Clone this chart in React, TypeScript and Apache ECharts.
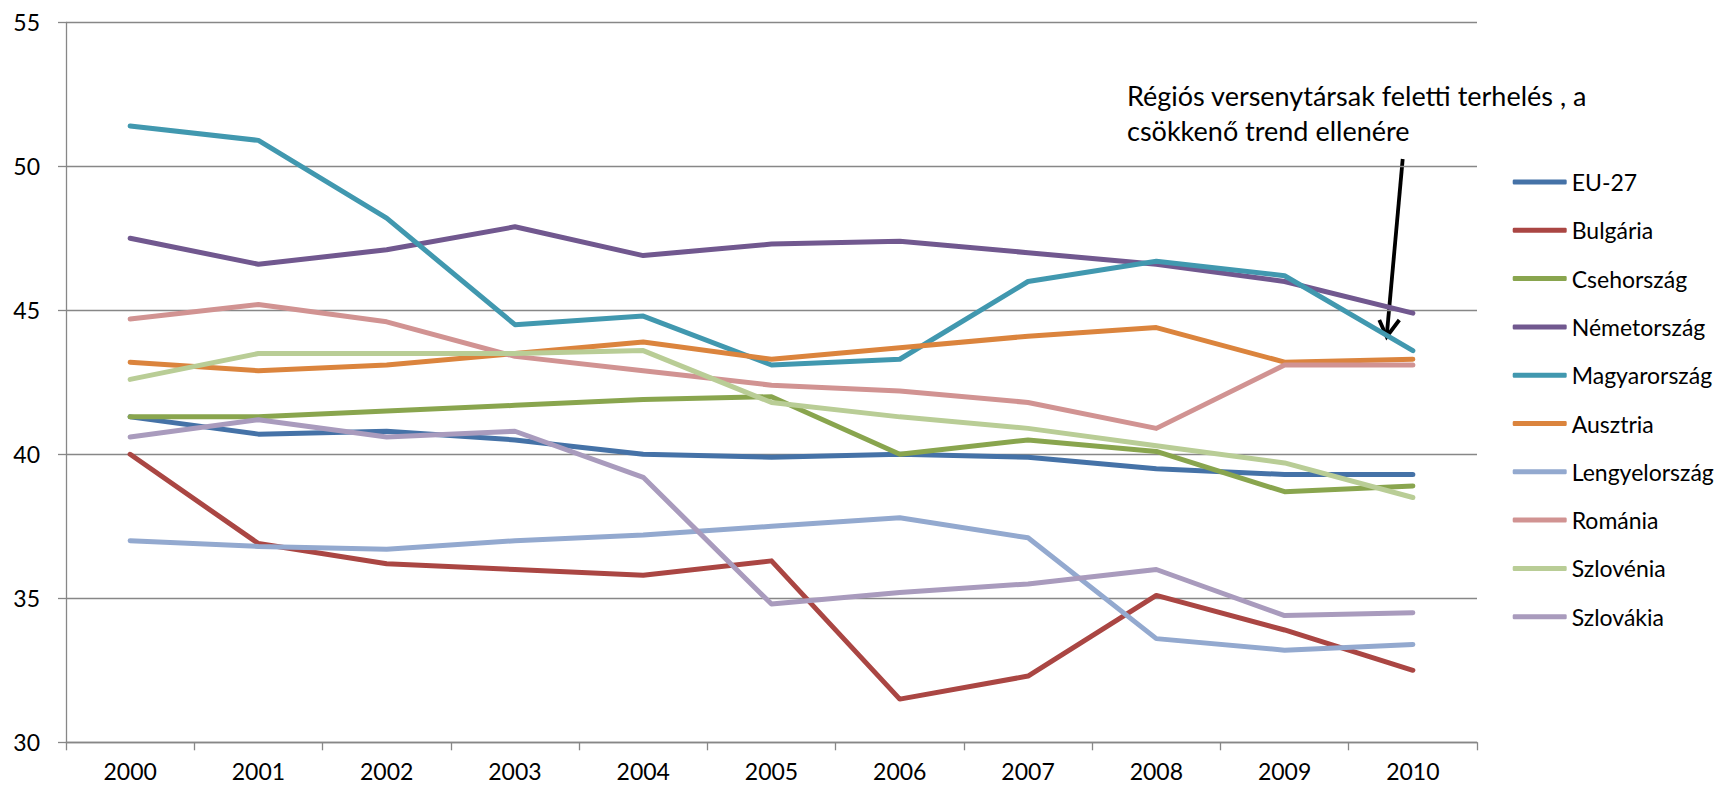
import React, { useEffect, useRef } from "react";
import * as echarts from "echarts";

const years = ["2000", "2001", "2002", "2003", "2004", "2005", "2006", "2007", "2008", "2009", "2010"];

const eu27 = [41.3, 40.7, 40.8, 40.5, 40.0, 39.9, 40.0, 39.9, 39.5, 39.3, 39.3];
const bulgaria = [40.0, 36.9, 36.2, 36.0, 35.8, 36.3, 31.5, 32.3, 35.1, 33.9, 32.5];
const csehorszag = [41.3, 41.3, 41.5, 41.7, 41.9, 42.0, 40.0, 40.5, 40.1, 38.7, 38.9];
const nemetorszag = [47.5, 46.6, 47.1, 47.9, 46.9, 47.3, 47.4, 47.0, 46.6, 46.0, 44.9];
const magyarorszag = [51.4, 50.9, 48.2, 44.5, 44.8, 43.1, 43.3, 46.0, 46.7, 46.2, 43.6];
const ausztria = [43.2, 42.9, 43.1, 43.5, 43.9, 43.3, 43.7, 44.1, 44.4, 43.2, 43.3];
const lengyelorszag = [37.0, 36.8, 36.7, 37.0, 37.2, 37.5, 37.8, 37.1, 33.6, 33.2, 33.4];
const romania = [44.7, 45.2, 44.6, 43.4, 42.9, 42.4, 42.2, 41.8, 40.9, 43.1, 43.1];
const szlovenia = [42.6, 43.5, 43.5, 43.5, 43.6, 41.8, 41.3, 40.9, 40.3, 39.7, 38.5];
const szlovakia = [40.6, 41.2, 40.6, 40.8, 39.2, 34.8, 35.2, 35.5, 36.0, 34.4, 34.5];

const seriesNames = [
  "EU-27",
  "Bulgária",
  "Csehország",
  "Németország",
  "Magyarország",
  "Ausztria",
  "Lengyelország",
  "Románia",
  "Szlovénia",
  "Szlovákia",
];
const seriesData = [eu27, bulgaria, csehorszag, nemetorszag, magyarorszag, ausztria, lengyelorszag, romania, szlovenia, szlovakia];
const seriesColors = [
  "#4572A7",
  "#AA4643",
  "#89A54E",
  "#71588F",
  "#4198AF",
  "#DB843D",
  "#93A9CF",
  "#D19392",
  "#B9CD96",
  "#A99BBD",
];

const yTicks = { min: 30, max: 55, interval: 5 };
const annotation = "Régiós versenytársak feletti terhelés , a\ncsökkenő trend ellenére";

const FONT = "Lato, 'Open Sans', sans-serif";
const GRID_COLOR = "#878787";

export default function App() {
  const ref = useRef<HTMLDivElement>(null);

  useEffect(() => {
    if (!ref.current) return;
    const chart = echarts.init(ref.current, undefined, { renderer: "svg" });
    chart.setOption({
      animation: false,
      backgroundColor: "#ffffff",
      textStyle: { fontFamily: FONT },
      grid: { left: 66, right: 250, top: 22.3, bottom: 44.7, containLabel: false },
      xAxis: {
        type: "category",
        data: years,
        boundaryGap: true,
        axisLine: { show: true, lineStyle: { color: GRID_COLOR, width: 1.3 } },
        axisTick: { show: true, alignWithLabel: false, length: 8, lineStyle: { color: GRID_COLOR, width: 1.3 } },
        axisLabel: { color: "#000", fontSize: 23, fontFamily: FONT, margin: 17 },
        splitLine: { show: false },
      },
      yAxis: {
        type: "value",
        min: yTicks.min,
        max: yTicks.max,
        interval: yTicks.interval,
        axisLine: { show: true, lineStyle: { color: GRID_COLOR, width: 1.3 } },
        axisTick: { show: true, inside: false, length: 8, lineStyle: { color: GRID_COLOR, width: 1.3 } },
        axisLabel: { color: "#000", fontSize: 23, fontFamily: FONT, margin: 26 },
        splitLine: { show: true, lineStyle: { color: GRID_COLOR, width: 1.3 } },
      },
      legend: {
        orient: "vertical",
        left: 1512.7,
        top: 170,
        padding: 0,
        itemWidth: 54,
        itemHeight: 5,
        itemGap: 24.3,
        icon: "roundRect",
        textStyle: { color: "#000", fontSize: 23, fontFamily: FONT, lineHeight: 24 },
        data: seriesNames,
      },
      series: seriesNames.map((name, i) => ({
        name,
        type: "line",
        data: seriesData[i],
        symbol: "none",
        color: seriesColors[i],
        lineStyle: { color: seriesColors[i], width: 5, cap: "round", join: "round" },
      })),
      graphic: [
        {
          type: "text",
          x: 1127,
          y: 77.5,
          style: {
            text: annotation,
            font: `27px ${FONT}`,
            fill: "#000",
            lineHeight: 35,
            verticalAlign: "top",
            align: "left",
          },
        },
        {
          type: "line",
          shape: { x1: 1402.7, y1: 159, x2: 1386.7, y2: 336 },
          style: { stroke: "#000", lineWidth: 3.8 },
        },
        {
          type: "polyline",
          shape: { points: [[1379.3, 320], [1386.7, 336.7], [1399.3, 320]] },
          style: { stroke: "#000", lineWidth: 3.8, fill: null },
        },
      ],
    });
    return () => chart.dispose();
  }, []);

  return (
    <div
      ref={ref}
      style={{ position: "fixed", left: 0, top: 0, width: 1727, height: 787, background: "#fff" }}
    />
  );
}
